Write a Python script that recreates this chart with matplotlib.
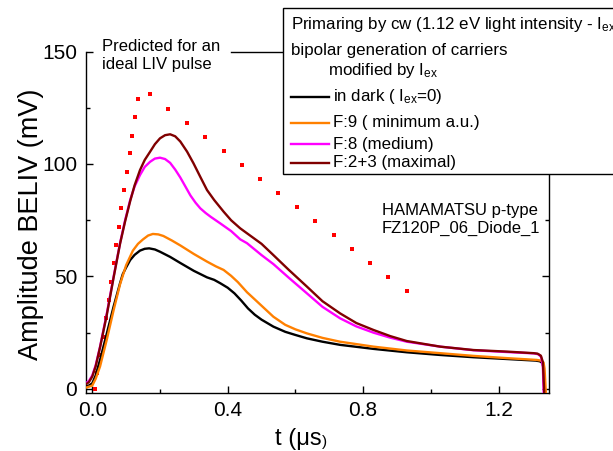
import matplotlib
matplotlib.use("Agg")
import matplotlib.pyplot as plt
from matplotlib.patches import Rectangle
from matplotlib.lines import Line2D
from matplotlib.ticker import MultipleLocator

plt.rcParams['font.family'] = ['Liberation Sans', 'DejaVu Sans']
plt.rcParams['mathtext.fontset'] = 'custom'
plt.rcParams['mathtext.rm'] = 'Liberation Sans'
plt.rcParams['mathtext.it'] = 'Liberation Sans'

# BELIV transients, time in microseconds, amplitude in mV
t_dark = [-0.02, -0.01, 0.0, 0.01, 0.023, 0.043, 0.063, 0.082, 0.09, 0.10, 0.112,
          0.125, 0.141, 0.155, 0.168, 0.185, 0.20, 0.23, 0.26, 0.30, 0.339, 0.36,
          0.378, 0.40, 0.42, 0.44, 0.46, 0.48, 0.50, 0.535, 0.57, 0.60, 0.634,
          0.68, 0.732, 0.831, 0.929, 1.028, 1.126, 1.225, 1.310, 1.322, 1.330,
          1.333, 1.337]
a_dark = [1.0, 1.5, 2.5, 6.0, 12.9, 24.7, 36.6, 47.0, 51.0, 54.0, 57.3,
          59.6, 61.5, 62.3, 62.5, 62.0, 61.0, 58.7, 56.0, 52.5, 49.6, 48.5,
          47.0, 45.0, 42.5, 39.3, 35.8, 33.0, 30.8, 27.7, 25.4, 24.0, 22.5,
          21.0, 19.6, 17.8, 16.3, 15.1, 14.1, 13.3, 12.6, 12.3, 11.5,
          9.0, -5.0]

t_f9 = [-0.02, 0.0, 0.01, 0.023, 0.043, 0.063, 0.082, 0.10, 0.12, 0.135, 0.15,
        0.165, 0.179, 0.195, 0.21, 0.235, 0.26, 0.30, 0.339, 0.365, 0.388, 0.41,
        0.43, 0.457, 0.48, 0.50, 0.535, 0.57, 0.60, 0.634, 0.68, 0.732, 0.831,
        0.929, 1.028, 1.126, 1.225, 1.313, 1.325, 1.333, 1.336, 1.341]
a_f9 = [0.5, 1.5, 4.5, 10.0, 22.0, 35.0, 46.5, 55.0, 61.5, 64.5, 66.5,
        68.2, 68.9, 68.7, 68.0, 66.0, 63.8, 60.0, 56.6, 54.5, 52.9, 50.3,
        47.5, 43.0, 39.8, 37.0, 32.1, 28.5, 26.5, 24.7, 22.7, 21.0, 18.8,
        17.1, 15.9, 14.7, 13.7, 12.9, 12.6, 11.8, 9.0, -5.0]

t_f8 = [-0.02, -0.01, 0.0, 0.01, 0.023, 0.043, 0.063, 0.082, 0.097, 0.112, 0.125,
        0.141, 0.155, 0.171, 0.185, 0.20, 0.215, 0.23, 0.245, 0.26, 0.275, 0.29,
        0.305, 0.319, 0.335, 0.35, 0.378, 0.41, 0.437, 0.457, 0.50, 0.535, 0.58,
        0.634, 0.68, 0.732, 0.78, 0.831, 0.88, 0.929, 1.028, 1.126, 1.225, 1.305,
        1.318, 1.326, 1.331, 1.334]
a_f8 = [2.5, 3.5, 6.0, 10.5, 18.8, 33.6, 49.9, 64.8, 75.0, 84.0, 90.0,
        95.1, 98.7, 101.0, 102.4, 102.8, 102.2, 100.5, 97.5, 94.0, 90.0, 86.0,
        82.8, 80.3, 78.2, 76.5, 73.6, 70.2, 66.5, 64.8, 59.5, 55.5, 49.5,
        42.5, 36.5, 31.4, 27.8, 25.0, 22.8, 21.0, 18.8, 17.2, 16.4, 15.8,
        15.4, 14.2, 10.0, -5.0]

t_f23 = [-0.02, -0.01, 0.0, 0.01, 0.023, 0.043, 0.063, 0.082, 0.097, 0.112, 0.125,
         0.141, 0.155, 0.171, 0.185, 0.20, 0.215, 0.23, 0.245, 0.26, 0.28, 0.299,
         0.32, 0.339, 0.36, 0.388, 0.41, 0.437, 0.457, 0.50, 0.535, 0.58, 0.634,
         0.68, 0.732, 0.78, 0.831, 0.88, 0.929, 1.028, 1.126, 1.225, 1.304, 1.315,
         1.325, 1.331, 1.336]
a_f23 = [2.0, 3.0, 5.5, 10.0, 18.5, 33.0, 49.5, 64.5, 74.5, 83.5, 90.5,
         97.3, 101.8, 105.5, 108.8, 111.4, 112.8, 113.2, 112.3, 110.0, 105.5, 100.3,
         94.0, 88.4, 84.0, 78.8, 75.0, 71.4, 69.2, 64.5, 59.5, 53.0, 45.5,
         39.0, 33.6, 29.3, 26.2, 23.5, 21.3, 18.8, 17.3, 16.6, 15.9, 15.7,
         14.8, 12.0, -5.0]

# ideal LIV pulse (predicted)
t_ideal = [0.008, 0.015, 0.023, 0.032, 0.040, 0.048, 0.056, 0.063, 0.071, 0.079,
           0.086, 0.094, 0.102, 0.110, 0.118, 0.127, 0.134, 0.171, 0.225, 0.279,
           0.334, 0.388, 0.442, 0.496, 0.550, 0.604, 0.658, 0.713, 0.767, 0.821,
           0.875, 0.929]
a_ideal = [0.0, 7.2, 15.1, 23.2, 31.4, 39.6, 47.7, 55.9, 64.0, 72.1,
           80.3, 88.4, 96.4, 104.7, 112.6, 120.8, 128.9, 131.0, 124.6, 118.4,
           112.1, 105.9, 99.6, 93.3, 87.0, 80.9, 74.7, 68.3, 62.1, 55.9,
           49.6, 43.4]

series = [
    (t_dark, a_dark, '#000000', 'in dark ( I$_{\\mathregular{ex}}$=0)'),
    (t_f9, a_f9, '#FF8000', 'F:9 ( minimum a.u.)'),
    (t_f8, a_f8, '#FF00FF', 'F:8 (medium)'),
    (t_f23, a_f23, '#800000', 'F:2+3 (maximal)'),
]

W, H = 613, 451
fig = plt.figure(figsize=(W / 100, H / 100), dpi=100)


def fx(px):
    return px / W


def fy(py):
    return 1 - py / H


ax_l, ax_r, ax_t, ax_b = 85.5, 549.3, 51.5, 393.0
ax = fig.add_axes([fx(ax_l), fy(ax_b), (ax_r - ax_l) / W, (ax_b - ax_t) / H])

ax.plot(t_ideal, a_ideal, linestyle='none', marker='s', markersize=2.4,
        color='#FF0000', markeredgewidth=0, zorder=2)
for t, a, c, _ in series:
    ax.plot(t, a, color=c, lw=1.7, zorder=3, solid_joinstyle='round')

ax.set_xlim(-0.02, 1.35)
ax.set_ylim(-1.8, 150)
ax.xaxis.set_minor_locator(MultipleLocator(0.2))
ax.yaxis.set_minor_locator(MultipleLocator(25))
ax.set_xticks([0.0, 0.4, 0.8, 1.2])
ax.set_xticklabels(['0.0', '0.4', '0.8', '1.2'])
ax.set_yticks([0, 50, 100, 150])
ax.set_yticklabels(['0', '50', '100', '150'])
ax.tick_params(which='both', direction='in', top=False, right=True,
               labelsize=15, width=1.0)
ax.tick_params(which='major', length=5, pad=6)
ax.tick_params(which='minor', length=3)
for side in ('left', 'right', 'bottom'):
    ax.spines[side].set_linewidth(1.0)
ax.spines['top'].set_visible(False)
# top frame edge, visible only between the note and the key box
ax.plot([0.41, 1.35], [150, 150], color='black', lw=1.0, clip_on=False, zorder=2.5)

# axis titles
fig.text(fx(31), fy(224), 'Amplitude BELIV (mV)', rotation=90, fontsize=19.5,
         ha='center', va='center')
xl = fig.text(fx(275), fy(445), 't (\u03bcs', fontsize=17, ha='left', va='baseline')
ax.annotate(')', xy=(1, 0), xycoords=xl, fontsize=11, ha='left', va='bottom',
            xytext=(0, 1), textcoords='offset points')

# notes
fig.text(fx(102), fy(55.5), 'Predicted for an\nideal LIV pulse', fontsize=12,
         ha='left', va='center', linespacing=1.32)
fig.text(fx(382), fy(219.5), 'HAMAMATSU p-type\nFZ120P_06_Diode_1', fontsize=12,
         ha='left', va='center', linespacing=1.32)

# key box
fig.add_artist(Rectangle((fx(283), fy(174)), (660 - 283) / W, (174 - 8) / H,
                         transform=fig.transFigure, facecolor='white',
                         edgecolor='black', lw=1.0, zorder=5))
fig.text(fx(291), fy(24), 'Primaring by cw (1.12 eV light intensity - I$_{\\mathregular{ex}}$',
         fontsize=12.2, ha='left', va='center', zorder=6)
fig.text(fx(291), fy(50), 'bipolar generation of carriers', fontsize=12.2,
         ha='left', va='center', zorder=6)
fig.text(fx(328), fy(71), 'modified by I$_{\\mathregular{ex}}$', fontsize=12.2,
         ha='left', va='center', zorder=6)
for (t, a, c, lab), yk in zip(series, [97, 123, 144, 163]):
    fig.add_artist(Line2D([fx(291), fx(329)], [fy(yk), fy(yk)], color=c, lw=1.7,
                          transform=fig.transFigure, zorder=6))
    fig.text(fx(333), fy(yk), lab, fontsize=12.2, ha='left', va='center', zorder=6)

fig.savefig('out.png', dpi=100)
